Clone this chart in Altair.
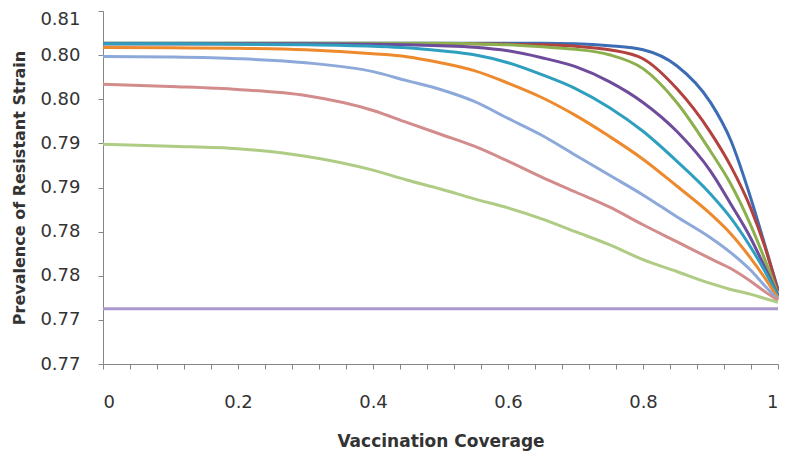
import altair as alt
import pandas as pd

coverage = [0, 0.1, 0.2, 0.3, 0.4, 0.45, 0.5, 0.55, 0.6, 0.65, 0.7, 0.75,
            0.8, 0.85, 0.9, 0.93, 0.96, 0.98, 1.0]

series_names = ["S1", "S2", "S3", "S4", "S5", "S6", "S7", "S8", "S9", "S10"]

s1 = [0.80634, 0.80634, 0.80634, 0.80634, 0.80634, 0.80634, 0.80634, 0.80634, 0.80634, 0.80634,
      0.80628, 0.80606, 0.80561, 0.80380, 0.79964, 0.79535, 0.78871, 0.78363, 0.77845]
s2 = [0.80628, 0.80628, 0.80628, 0.80628, 0.80628, 0.80628, 0.80628, 0.80628, 0.80623, 0.80617,
      0.80600, 0.80561, 0.80459, 0.80121, 0.79625, 0.79242, 0.78758, 0.78341, 0.77823]
s3 = [0.80634, 0.80634, 0.80634, 0.80634, 0.80634, 0.80634, 0.80634, 0.80628, 0.80617, 0.80594,
      0.80566, 0.80504, 0.80347, 0.79964, 0.79411, 0.79040, 0.78566, 0.78194, 0.77789]
s4 = [0.80628, 0.80628, 0.80628, 0.80628, 0.80623, 0.80617, 0.80606, 0.80589, 0.80549, 0.80471,
      0.80369, 0.80200, 0.79964, 0.79637, 0.79186, 0.78814, 0.78420, 0.78104, 0.77778]
s5 = [0.80628, 0.80628, 0.80623, 0.80617, 0.80600, 0.80583, 0.80549, 0.80504, 0.80414, 0.80279,
      0.80121, 0.79907, 0.79637, 0.79299, 0.78927, 0.78656, 0.78318, 0.78059, 0.77766]
s6 = [0.80587, 0.80583, 0.80578, 0.80561, 0.80516, 0.80482, 0.80414, 0.80324, 0.80183, 0.80020,
      0.79817, 0.79580, 0.79321, 0.79017, 0.78701, 0.78476, 0.78194, 0.77980, 0.77744]
s7 = [0.80485, 0.80478, 0.80459, 0.80414, 0.80313, 0.80211, 0.80110, 0.79975, 0.79783, 0.79592,
      0.79366, 0.79141, 0.78916, 0.78668, 0.78431, 0.78262, 0.78059, 0.77890, 0.77732]
s8 = [0.80170, 0.80144, 0.80110, 0.80042, 0.79873, 0.79738, 0.79603, 0.79468, 0.79299, 0.79118,
      0.78949, 0.78780, 0.78578, 0.78386, 0.78194, 0.78082, 0.77935, 0.77823, 0.77721]
s9 = [0.79490, 0.79468, 0.79440, 0.79355, 0.79197, 0.79085, 0.78983, 0.78871, 0.78769, 0.78645,
      0.78499, 0.78352, 0.78183, 0.78048, 0.77913, 0.77845, 0.77789, 0.77744, 0.77699]
s10 = [0.77625] * len(coverage)

series_values = [s1, s2, s3, s4, s5, s6, s7, s8, s9, s10]

colors = ["#3C6DB4", "#B3423E", "#8CB04E", "#6E4B9B", "#2E9FBF",
          "#EE8A2E", "#8DA9DA", "#D38C8C", "#AFCC85", "#A898CC"]

y_tick_values = [0.77, 0.775, 0.78, 0.785, 0.79, 0.795, 0.80, 0.805, 0.81]
y_tick_labels = ["0.77", "0.77", "0.78", "0.78", "0.79", "0.79", "0.80", "0.80", "0.81"]
x_tick_values = [round(i * 0.04, 2) for i in range(26)]
x_tick_labels = ["0", "0.2", "0.4", "0.6", "0.8", "1"]

rows = []
for idx, (name, vals) in enumerate(zip(series_names, series_values)):
    for xv, yv in zip(coverage, vals):
        rows.append({"coverage": xv, "prevalence": yv, "series": name, "k": idx})
df = pd.DataFrame(rows)

y_lab_js = "[" + ",".join("'%s'" % s for s in y_tick_labels) + "]"
x_lab_js = "[" + ",".join("'%s'" % s for s in x_tick_labels) + "]"

axis_common = dict(
    grid=False,
    domainColor="#868686",
    tickColor="#868686",
    tickSize=5,
    labelFont="DejaVu Sans",
    labelFontSize=18,
    labelColor="#333333",
    titleFont="DejaVu Sans",
    titleFontWeight="bold",
    titleColor="#333333",
)

chart = alt.Chart(df).mark_line(strokeWidth=3, interpolate="monotone").encode(
    x=alt.X(
        "coverage:Q",
        scale=alt.Scale(domain=[0, 1], nice=False),
        axis=alt.Axis(
            values=x_tick_values,
            labelExpr="abs(datum.value*5 - round(datum.value*5)) < 0.001 ? "
                      + x_lab_js + "[round(datum.value*5)] : ''",
            labelOverlap=False,
            labelPadding=24,
            titlePadding=22,
            titleFontSize=17,
            title="Vaccination Coverage",
            **axis_common,
        ),
    ),
    y=alt.Y(
        "prevalence:Q",
        scale=alt.Scale(domain=[0.77, 0.81], nice=False, zero=False),
        axis=alt.Axis(
            values=y_tick_values,
            labelExpr=y_lab_js + "[round((datum.value-0.77)/0.005)]",
            labelOverlap=False,
            labelPadding=18,
            labelOffset={"condition": {"test": "datum.value > 0.809", "value": 8}, "value": 0},
            titlePadding=12,
            titleFontSize=16,
            title="Prevalence of Resistant Strain",
            **axis_common,
        ),
    ),
    color=alt.Color("series:N", scale=alt.Scale(domain=series_names, range=colors), legend=None),
    order=alt.Order("k:Q"),
).properties(
    width=675,
    height=353,
    autosize=alt.AutoSizeParams(type="none"),
    padding={"left": 95, "top": 3, "right": 1, "bottom": 88},
).configure_view(stroke=None)

chart.save("out.html", embed_options={"renderer": "svg", "actions": False})
